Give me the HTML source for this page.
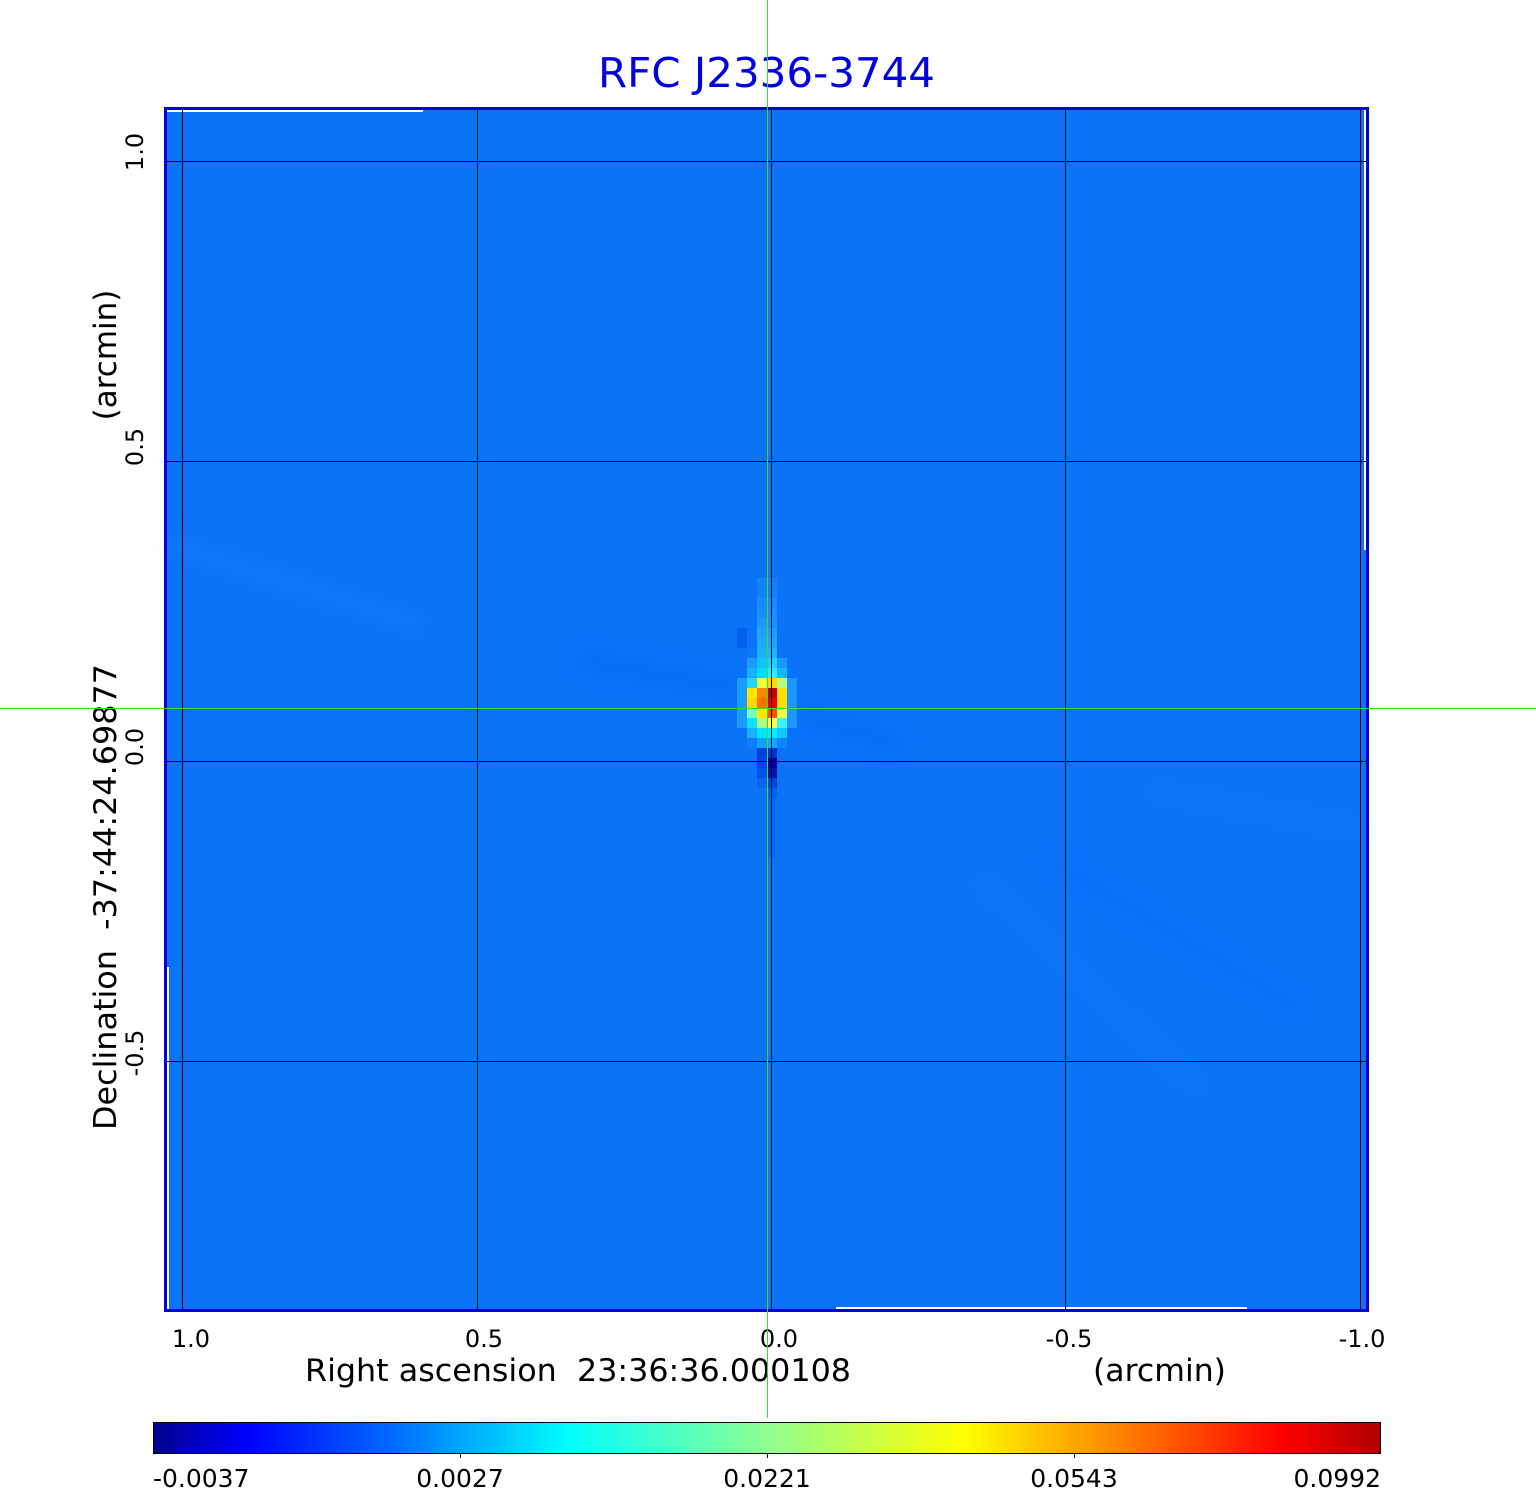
<!DOCTYPE html>
<html><head><meta charset="utf-8"><style>
html,body{margin:0;padding:0;background:#fff;}
svg{display:block;}
text{font-family:"DejaVu Sans","Liberation Sans",sans-serif;white-space:pre;}
</style></head><body>
<svg width="1536" height="1511" viewBox="0 0 1536 1511" xmlns="http://www.w3.org/2000/svg" xml:space="preserve">
<defs>
<linearGradient id="cb" x1="0" y1="0" x2="1" y2="0">
<stop offset="0" stop-color="#00008c"/>
<stop offset="0.077" stop-color="#0000ff"/>
<stop offset="0.2" stop-color="#0070ff"/>
<stop offset="0.338" stop-color="#00ffff"/>
<stop offset="0.5" stop-color="#90ff90"/>
<stop offset="0.661" stop-color="#ffff00"/>
<stop offset="0.79" stop-color="#ff8000"/>
<stop offset="0.919" stop-color="#ff0000"/>
<stop offset="1" stop-color="#b00000"/>
</linearGradient>
<filter id="blur6" x="-20%" y="-20%" width="140%" height="140%"><feGaussianBlur stdDeviation="8"/></filter>
</defs>
<rect width="1536" height="1511" fill="#fff"/>
<!-- title -->
<text x="598" y="87" font-size="41" fill="#0000e0" textLength="337" lengthAdjust="spacingAndGlyphs">RFC J2336-3744</text>
<!-- map background -->
<rect x="167" y="110" width="1199" height="1199" fill="#0b73f8"/>
<!-- subtle streaks -->
<g filter="url(#blur6)" opacity="0.22">
<path d="M170 545 L420 625" stroke="#2a8cff" stroke-width="14"/>
<path d="M580 660 L740 690" stroke="#0058ec" stroke-width="22"/>
<path d="M800 715 L900 745" stroke="#0058ec" stroke-width="22"/>
<path d="M1150 790 L1366 830" stroke="#2a8cff" stroke-width="10"/>
<path d="M980 880 L1200 1090" stroke="#2a8cff" stroke-width="10"/>
<path d="M1050 860 L1300 1010" stroke="#0062f0" stroke-width="12"/>
</g>
<!-- hotspot cells -->
<g shape-rendering="crispEdges">
<rect x="757" y="578" width="20" height="20" fill="#1480fc"/>
<rect x="757" y="598" width="10" height="10" fill="#1a88ff"/><rect x="767" y="598" width="10" height="10" fill="#1a88ff"/>
<rect x="757" y="608" width="10" height="10" fill="#1a90ff"/><rect x="767" y="608" width="10" height="10" fill="#1a8cff"/>
<rect x="757" y="618" width="10" height="10" fill="#1e98ff"/><rect x="767" y="618" width="10" height="10" fill="#1a90ff"/>
<rect x="737" y="628" width="10" height="20" fill="#0060ee"/>
<rect x="757" y="628" width="10" height="10" fill="#20a0ff"/><rect x="767" y="628" width="10" height="10" fill="#1e9cff"/>
<rect x="757" y="638" width="10" height="10" fill="#20a8ff"/><rect x="767" y="638" width="10" height="10" fill="#20a4ff"/>
<rect x="747" y="648" width="10" height="10" fill="#0a78fa"/>
<rect x="757" y="648" width="10" height="10" fill="#1cb0ff"/><rect x="767" y="648" width="10" height="10" fill="#20b4ff"/>
<rect x="747" y="658" width="10" height="10" fill="#1a9cff"/><rect x="757" y="658" width="10" height="10" fill="#10c4ff"/><rect x="767" y="658" width="10" height="10" fill="#1cd0ff"/><rect x="777" y="658" width="10" height="10" fill="#1a98ff"/>
<rect x="747" y="668" width="10" height="10" fill="#18b0ff"/><rect x="757" y="668" width="10" height="10" fill="#00dcff"/><rect x="767" y="668" width="10" height="10" fill="#30e8ff"/><rect x="777" y="668" width="10" height="10" fill="#10b8ff"/>
<rect x="737" y="678" width="10" height="50" fill="#1a9cff"/><rect x="787" y="678" width="10" height="50" fill="#1a98ff"/>
<rect x="747" y="678" width="10" height="10" fill="#20d8ff"/><rect x="757" y="678" width="10" height="10" fill="#f4ff40"/><rect x="767" y="678" width="10" height="10" fill="#ffd800"/><rect x="777" y="678" width="10" height="10" fill="#b0ff80"/>
<rect x="747" y="688" width="10" height="10" fill="#ffe400"/><rect x="757" y="688" width="10" height="10" fill="#ff8400"/><rect x="767" y="688" width="10" height="10" fill="#c00000"/><rect x="777" y="688" width="10" height="10" fill="#ffe000"/>
<rect x="747" y="698" width="10" height="10" fill="#ffd800"/><rect x="757" y="698" width="10" height="10" fill="#ff7000"/><rect x="767" y="698" width="10" height="10" fill="#e80000"/><rect x="777" y="698" width="10" height="10" fill="#ffe000"/>
<rect x="747" y="708" width="10" height="10" fill="#70ffc0"/><rect x="757" y="708" width="10" height="10" fill="#ffe800"/><rect x="767" y="708" width="10" height="10" fill="#ff5000"/><rect x="777" y="708" width="10" height="10" fill="#f0ff40"/>
<rect x="747" y="718" width="10" height="10" fill="#10e0ff"/><rect x="757" y="718" width="10" height="10" fill="#b0ff80"/><rect x="767" y="718" width="10" height="10" fill="#ffff40"/><rect x="777" y="718" width="10" height="10" fill="#40f0ff"/>
<rect x="747" y="728" width="10" height="10" fill="#1ab0ff"/><rect x="757" y="728" width="10" height="10" fill="#00e4ff"/><rect x="767" y="728" width="10" height="10" fill="#00ecff"/><rect x="777" y="728" width="10" height="10" fill="#10c8ff"/>
<rect x="747" y="738" width="10" height="10" fill="#0a80fa"/><rect x="757" y="738" width="10" height="10" fill="#10a0ff"/><rect x="767" y="738" width="10" height="10" fill="#10a8ff"/><rect x="777" y="738" width="10" height="10" fill="#0a88fa"/>
<rect x="757" y="748" width="10" height="10" fill="#0040e0"/><rect x="767" y="748" width="10" height="10" fill="#0034d8"/>
<rect x="757" y="758" width="10" height="10" fill="#0044e4"/><rect x="767" y="758" width="10" height="10" fill="#000098"/>
<rect x="757" y="768" width="10" height="10" fill="#0050ee"/><rect x="767" y="768" width="10" height="10" fill="#0010a8"/>
<rect x="757" y="778" width="10" height="10" fill="#0a64f4"/><rect x="767" y="778" width="10" height="10" fill="#0048e4"/>
<rect x="767" y="788" width="10" height="10" fill="#0060f0"/>
<rect x="767" y="798" width="8" height="60" fill="#0866f4"/>
</g>
<!-- white artifact lines -->
<g shape-rendering="crispEdges" fill="#fff">
<rect x="167" y="110" width="256" height="2"/>
<rect x="1364" y="110" width="2" height="440"/>
<rect x="836" y="1307" width="411" height="2"/>
<rect x="167" y="967" width="2" height="342"/>
</g>
<!-- grid lines -->
<g stroke="#000" stroke-width="1" shape-rendering="crispEdges">
<line x1="182.5" y1="110" x2="182.5" y2="1309"/>
<line x1="477.5" y1="110" x2="477.5" y2="1309"/>
<line x1="771.5" y1="110" x2="771.5" y2="1309"/>
<line x1="1065.5" y1="110" x2="1065.5" y2="1309"/>
<line x1="1360.5" y1="110" x2="1360.5" y2="1309"/>
<line x1="167" y1="161.5" x2="1366" y2="161.5"/>
<line x1="167" y1="461.5" x2="1366" y2="461.5"/>
<line x1="167" y1="761.5" x2="1366" y2="761.5"/>
<line x1="167" y1="1061.5" x2="1366" y2="1061.5"/>
</g>
<!-- frame -->
<rect x="165.5" y="108.5" width="1202" height="1202" fill="none" stroke="#0000dd" stroke-width="3" shape-rendering="crispEdges"/>
<!-- x tick labels -->
<g font-size="24" fill="#000" text-anchor="middle">
<text x="191" y="1347">1.0</text>
<text x="484" y="1347">0.5</text>
<text x="779" y="1347">0.0</text>
<text x="1069" y="1347">-0.5</text>
<text x="1362" y="1347">-1.0</text>
</g>
<text x="305" y="1381" font-size="31" fill="#000" textLength="546" lengthAdjust="spacingAndGlyphs" xml:space="preserve">Right ascension  23:36:36.000108</text>
<text x="1093" y="1381" font-size="31" fill="#000" textLength="133" lengthAdjust="spacingAndGlyphs">(arcmin)</text>
<!-- y tick labels -->
<g font-size="24" fill="#000" text-anchor="middle">
<text transform="translate(143,152) rotate(-90)">1.0</text>
<text transform="translate(143,447) rotate(-90)">0.5</text>
<text transform="translate(143,747) rotate(-90)">0.0</text>
<text transform="translate(143,1053) rotate(-90)">-0.5</text>
</g>
<text transform="translate(116,1130) rotate(-90)" font-size="31" fill="#000" textLength="466" lengthAdjust="spacingAndGlyphs" xml:space="preserve">Declination  -37:44:24.69877</text>
<text transform="translate(116,355) rotate(-90)" font-size="31" fill="#000" text-anchor="middle">(arcmin)</text>
<!-- colorbar -->
<rect x="153.5" y="1422.5" width="1227" height="31" fill="url(#cb)" stroke="#000" stroke-width="1" shape-rendering="crispEdges"/>
<g stroke="#000" stroke-width="1" shape-rendering="crispEdges">
<line x1="460.5" y1="1453" x2="460.5" y2="1458"/>
<line x1="767.5" y1="1453" x2="767.5" y2="1458"/>
<line x1="1074.5" y1="1453" x2="1074.5" y2="1458"/>
</g>
<g font-size="25" fill="#000">
<text x="153" y="1487">-0.0037</text>
<text x="460" y="1487" text-anchor="middle">0.0027</text>
<text x="767" y="1487" text-anchor="middle">0.0221</text>
<text x="1074" y="1487" text-anchor="middle">0.0543</text>
<text x="1381" y="1487" text-anchor="end">0.0992</text>
</g>
<!-- green crosshair -->
<g stroke="#30e030" stroke-width="1" shape-rendering="crispEdges">
<line x1="767.5" y1="0" x2="767.5" y2="1418"/>
<line x1="0" y1="708.5" x2="1536" y2="708.5"/>
</g>
</svg>
</body></html>
